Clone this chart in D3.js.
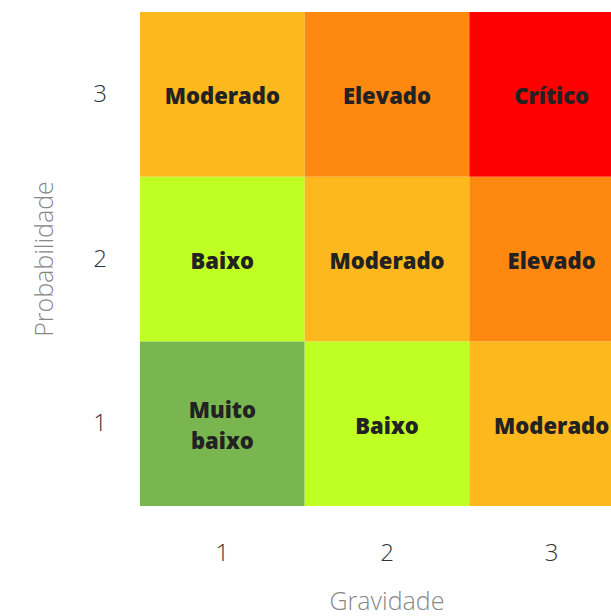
<!DOCTYPE html>
<html>
<head>
<meta charset="utf-8">
<script src="https://cdn.jsdelivr.net/npm/d3@7"></script>
<style>
  html, body { margin: 0; padding: 0; background: #fff; overflow: hidden; }
  text { font-family: "Open Sans", Lato, "DejaVu Sans", sans-serif; }
</style>
</head>
<body>
<div id="chart"></div>
<script>
// Data
var gravidade = ["1", "2", "3"];
var probabilidade = ["1", "2", "3"];
// rows listed bottom (prob 1) to top (prob 3), columns gravidade 1..3
var riskLabels = [
  ["Muito baixo", "Baixo", "Moderado"],
  ["Baixo", "Moderado", "Elevado"],
  ["Moderado", "Elevado", "Crítico"]
];
var riskLevels = ["Muito baixo", "Baixo", "Moderado", "Elevado", "Crítico"];
var riskColors = ["#7ab650", "#c0ff24", "#fdb81d", "#ff8811", "#ff0000"];

var cells = [];
probabilidade.forEach(function(p, i) {
  gravidade.forEach(function(g, j) {
    cells.push({ x: g, y: p, label: riskLabels[i][j] });
  });
});

// Set graph margins and dimensions
var margin = {top: 12, left: 140},
    width = 494,
    height = 494;

var x = d3.scaleBand().domain(gravidade).range([0, width]);
var y = d3.scaleBand().domain(probabilidade).range([height, 0]);
var color = d3.scaleOrdinal().domain(riskLevels).range(riskColors);

var svg = d3.select("#chart").append("svg")
    .attr("width", 611)
    .attr("height", 616);

var g = svg.append("g")
    .attr("transform", "translate(" + margin.left + "," + margin.top + ")");

// Cells
g.selectAll(".cell")
    .data(cells)
  .enter().append("rect")
    .attr("class", "cell")
    .attr("x", function(d) { return x(d.x); })
    .attr("y", function(d) { return y(d.y); })
    .attr("width", x.bandwidth())
    .attr("height", y.bandwidth())
    .attr("fill", function(d) { return color(d.label); });

// Cell labels (wrap two-word labels)
var labels = g.selectAll(".lbl")
    .data(cells)
  .enter().append("text")
    .attr("class", "lbl")
    .attr("text-anchor", "middle")
    .attr("font-size", "22px")
    .attr("font-weight", "800")
    .attr("fill", "#222")
    .attr("x", function(d) { return x(d.x) + x.bandwidth() / 2; })
    .attr("y", function(d) { return y(d.y) + y.bandwidth() / 2; });

labels.each(function(d) {
  var words = d.label.split(" ");
  var t = d3.select(this);
  var cx = x(d.x) + x.bandwidth() / 2;
  words.forEach(function(w, k) {
    t.append("tspan")
      .attr("x", cx)
      .attr("dy", k === 0 ? (0.45 - (words.length - 1) * 0.7) + "em" : "1.4em")
      .text(w);
  });
});

// Axes
var xAxis = g.append("g")
    .attr("transform", "translate(0," + height + ")")
    .call(d3.axisBottom(x).tickSize(0).tickPadding(38));
var yAxis = g.append("g")
    .call(d3.axisLeft(y).tickSize(0).tickPadding(33));

[xAxis, yAxis].forEach(function(a) {
  a.select(".domain").remove();
  a.selectAll("text")
    .attr("font-size", "24px")
    .attr("font-weight", "300")
    .attr("fill", "#333");
});

// Axis titles
svg.append("text")
    .attr("x", margin.left + width / 2)
    .attr("y", 610)
    .attr("text-anchor", "middle")
    .attr("font-size", "25px")
    .attr("font-weight", "300")
    .attr("fill", "#888")
    .text("Gravidade");

svg.append("text")
    .attr("transform", "translate(53," + (margin.top + height / 2) + ") rotate(-90)")
    .attr("text-anchor", "middle")
    .attr("font-size", "25px")
    .attr("font-weight", "300")
    .attr("fill", "#888")
    .text("Probabilidade");
</script>
</body>
</html>
